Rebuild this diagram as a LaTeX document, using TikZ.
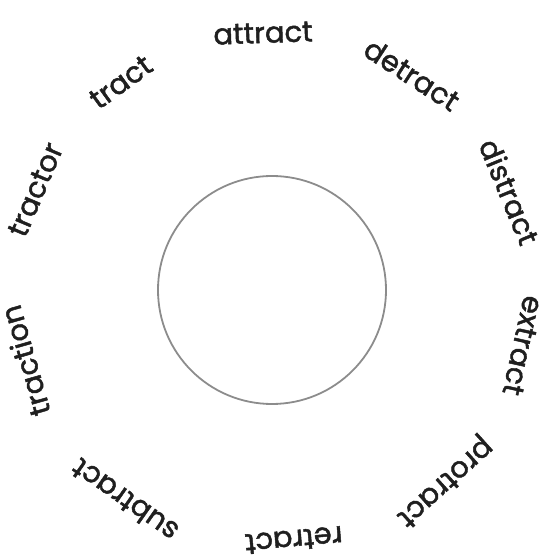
\documentclass[tikz,border=0pt]{standalone}
\usepackage{fontspec}
\setmainfont{Poppins}[UprightFeatures={FakeBold=1.6}]
\begin{document}
\begin{tikzpicture}[x=1pt,y=1pt,
  word/.style={font=\fontsize{29}{34}\selectfont, text=black!88, inner sep=0pt, anchor=center},
  ring/.style={circle, draw=black!45, line width=1.8pt, minimum size=228pt, inner sep=0pt}]
\useasboundingbox (-272,-266) rectangle (272,290);
\node[ring] (c) at (0,0) {};
\foreach \a/\w/\n/\r in {92/attract/w1/257, 57/detract/w2/257, 22.5/distract/w3/257, -12.5/extract/w4/257, -48/protract/w5/257, -85/retract/w6/251, -125/subtract/w7/257, -164/traction/w8/257, 157/tractor/w9/257, 126/tract/w10/257}
  \node[word, rotate=\a-90] (\n) at (\a:\r) {\w};
\end{tikzpicture}
\end{document}
